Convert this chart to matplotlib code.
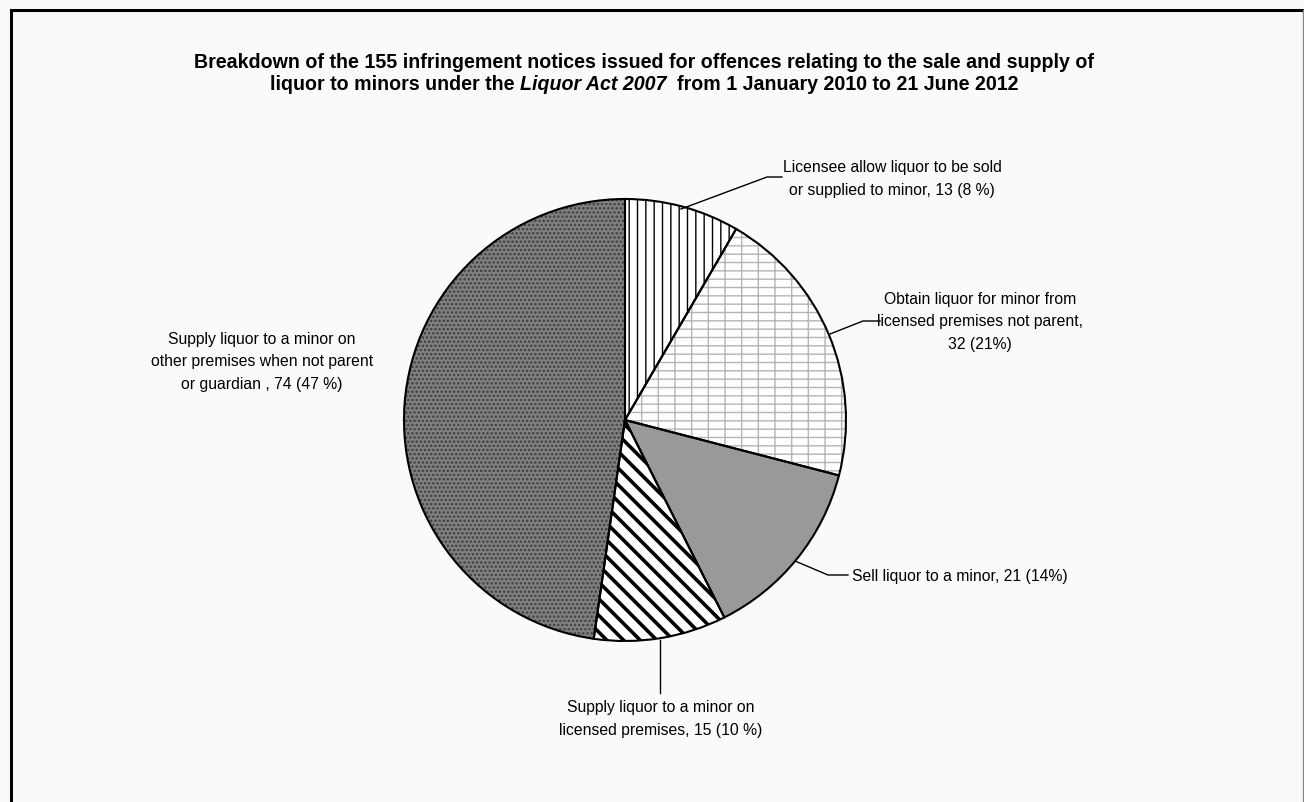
import matplotlib
matplotlib.use("Agg")
import matplotlib.pyplot as plt

plt.rcParams['font.family'] = ['Liberation Sans', 'DejaVu Sans']

# data
categories = ['Licensee allow liquor to be sold\nor supplied to minor',
              'Obtain liquor for minor from\nlicensed premises not parent,\n',
              'Sell liquor to a minor',
              'Supply liquor to a minor on\nlicensed premises',
              'Supply liquor to a minor on\nother premises when not parent\nor guardian ']
counts = [13, 32, 21, 15, 74]
pct_text = ['8 %', '21%', '14%', '10 %', '47 %']
total = 155

# figure is laid out in pixel coordinates
W, H = 1304, 803
fig = plt.figure(figsize=(W / 100, H / 100), dpi=100, facecolor='#fafafa')
ax = fig.add_axes([0, 0, 1, 1])


def py(y):
    # y measured from the top of the image
    return H - y


cx, cy, r = 625, 421, 221
face = ['white', 'white', '#999999', 'white', '#808080']
hatch_col = ['black', '#b4b4b4', '#999999', 'black', '#3e3e3e']
hatches = ['||', '--|', '', '\\\\', '....']
hatch_lw = [1.0, 1.0, 1.0, 2.6, 1.2]

wedges, _ = ax.pie(counts, center=(cx, py(cy)), radius=r, startangle=90,
                   counterclock=False, colors=face, hatch=hatches,
                   wedgeprops=dict(linewidth=0))
for w, hc, lw in zip(wedges, hatch_col, hatch_lw):
    w.set_edgecolor(hc)
    if hasattr(w, 'set_hatch_linewidth'):
        w.set_hatch_linewidth(lw)

# outlines on top
ax.pie(counts, center=(cx, py(cy)), radius=r, startangle=90,
       counterclock=False, wedgeprops=dict(fill=False, edgecolor='black',
                                           linewidth=1.5))

ax.set_xlim(0, W)
ax.set_ylim(0, H)
ax.set_aspect('auto')
ax.axis('off')

# labels
fs = 11.3
ls = 1.62
labels = []
for c, n, p in zip(categories, counts, pct_text):
    sep = ' ' if c.endswith('\n') else ', '
    if c.endswith('guardian '):
        sep = ', '
    labels.append('%s%s%d (%s)' % (c, sep, n, p))
labels[1] = categories[1] + '%d (%s)' % (counts[1], pct_text[1])

ax.text(892, py(179), labels[0], ha='center', va='center', fontsize=fs,
        linespacing=ls)
ax.plot([681, 767, 782], [py(210), py(178), py(178)], color='black', lw=1)

ax.text(980, py(322), labels[1], ha='center', va='center', fontsize=fs,
        linespacing=ls)
ax.plot([830, 863, 880], [py(335), py(322), py(322)], color='black', lw=1)

ax.text(852, py(577), labels[2], ha='left', va='center', fontsize=fs)
ax.plot([795, 828, 848], [py(562), py(576), py(576)], color='black', lw=1)

ax.text(661, py(719), labels[3], ha='center', va='center', fontsize=fs,
        linespacing=ls)
ax.plot([660, 660], [py(641), py(694)], color='black', lw=1)

ax.text(262, py(362), labels[4], ha='center', va='center', fontsize=fs,
        linespacing=ls)

# title, second line has the act name in italics
tfs = 14.1
ax.text(644, py(62), 'Breakdown of the %d infringement notices issued for '
        'offences relating to the sale and supply of' % total,
        ha='center', va='center', fontsize=tfs, fontweight='bold')
pieces = [('liquor to minors under the ', 'normal'),
          ('Liquor Act 2007', 'italic'),
          ('  from 1 January 2010 to 21 June 2012', 'normal')]
renderer = fig.canvas.get_renderer()
texts = [ax.text(0, py(85), s, ha='left', va='center', fontsize=tfs,
                 fontweight='bold', fontstyle=st) for s, st in pieces]
widths = [t.get_window_extent(renderer).width for t in texts]
x = 644 - sum(widths) / 2
for t, wd in zip(texts, widths):
    t.set_x(x)
    x += wd

# outer frame
ax.plot([10.5, 10.5, 1302], [0, py(10.5), py(10.5)], color='black', lw=2.2,
        solid_joinstyle='miter')
ax.plot([1302.5, 1302.5], [0, py(10.5)], color='#888888', lw=1)

fig.savefig('out.png', dpi=100, facecolor=fig.get_facecolor())
